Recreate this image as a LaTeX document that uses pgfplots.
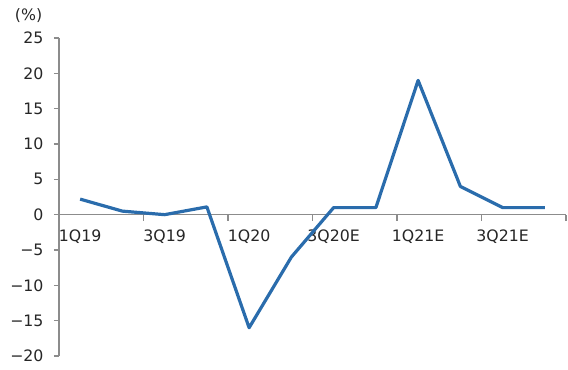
\documentclass[border=0pt]{standalone}
\usepackage{fontspec}
\setmainfont{DejaVu Sans}
\usepackage{pgfplots}
\pgfplotsset{compat=1.18}
\definecolor{linecol}{RGB}{42,108,172}
\definecolor{axcol}{RGB}{140,140,140}
\begin{document}
\begin{tikzpicture}
\begin{axis}[
  scale only axis, width=507bp, height=318bp,
  at={(0,0)}, anchor=south west,
  xmin=-0.5, xmax=11.5, ymin=-20, ymax=25,
  axis x line*=middle, axis y line*=left,
  axis line style={axcol, line width=1.4bp},
  every tick/.style={axcol, line width=1.2bp},
  tick align=outside,
  xtick={0,2,4,6,8,10},
  xticklabels={1Q19,3Q19,1Q20,3Q20E,1Q21E,3Q21E},
  major x tick style={draw=none},
  minor xtick={-0.5,1.5,3.5,5.5,7.5,9.5,11.5},
  minor tick length=6bp,
  major tick length=5bp,
  ytick={-20,-15,-10,-5,0,5,10,15,20,25},
  yticklabels={−20,−15,−10,−5,0,5,10,15,20,25},
  tick label style={font=\fontsize{15.8}{18}\selectfont, text=black!85},
  xticklabel style={anchor=north, yshift=-7bp},
  yticklabel style={anchor=east, xshift=-7bp},
  clip=false,
]
\addplot[linecol, line width=3.2bp, line join=round] coordinates {
 (0,2.2) (1,0.5) (2,0) (3,1.1) (4,-16) (5,-6) (6,1) (7,1) (8,19) (9,4) (10,1) (11,1)
};
\node[font=\fontsize{15.8}{18}\selectfont, text=black!85] at (axis description cs:-0.06,1.07) {(\%)};
\end{axis}
\pgfresetboundingbox
\useasboundingbox (-59bp,-14bp) rectangle (509bp,356bp);
\end{tikzpicture}
\end{document}
